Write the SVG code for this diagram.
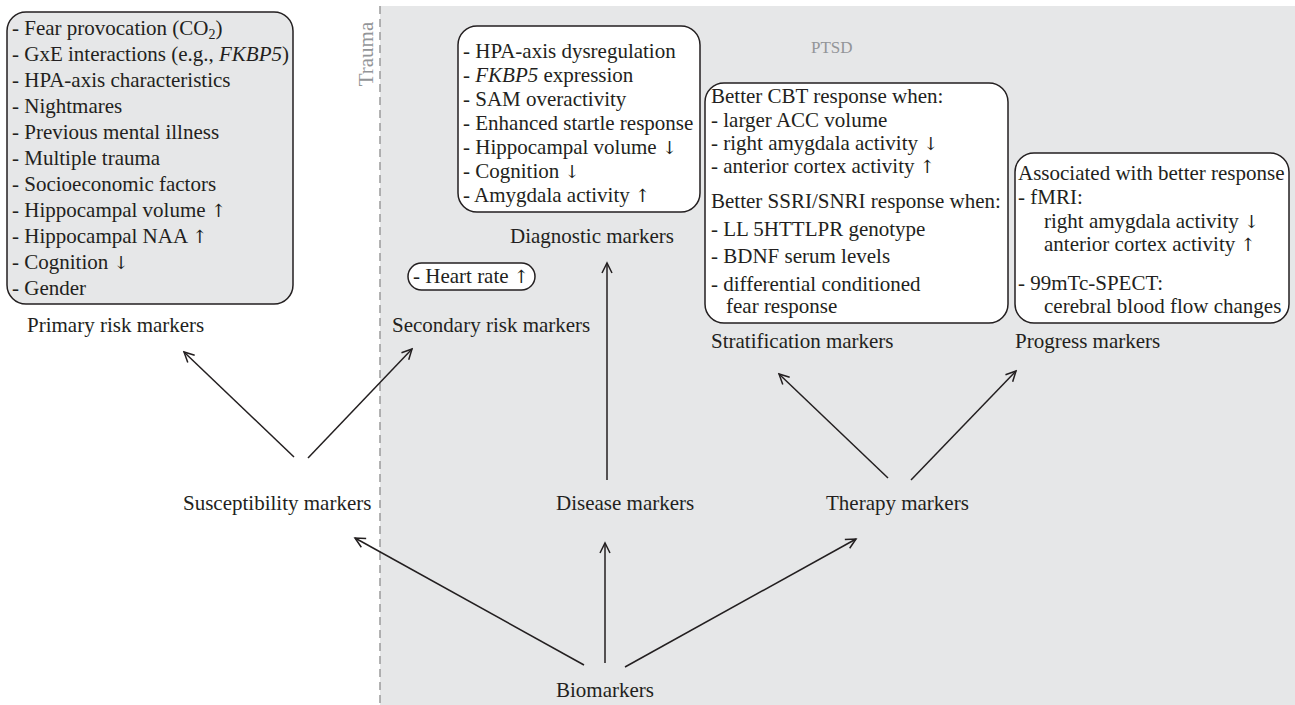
<svg xmlns="http://www.w3.org/2000/svg" width="1295" height="705" viewBox="0 0 1295 705">
<defs>
<style>
text{font-family:"Liberation Serif","DejaVu Serif",serif;font-size:21px;fill:#231f20}
.g{fill:#939598}
.box{stroke:#231f20;stroke-width:1.5}
.w{fill:#ffffff}
.gr{fill:#e6e7e8}
.c line{stroke:#231f20;stroke-width:1.5;marker-end:url(#ah)}
.i{font-style:italic}
.a{font-family:"DejaVu Serif","DejaVu Sans",serif;font-size:18px;font-variant-emoji:text}
</style>
<marker id="ah" markerUnits="userSpaceOnUse" markerWidth="14" markerHeight="14" viewBox="-12 -7 14 14" refX="0" refY="0" orient="auto">
<path d="M-10,-5 L0,0 L-10,5" fill="none" stroke="#231f20" stroke-width="1.5"/>
</marker>
</defs>
<rect width="1295" height="705" fill="#ffffff"/>
<g id="ptsd-region">
<rect x="380" y="6" width="915" height="699" class="gr"/>
<line x1="380" y1="6" x2="380" y2="705" stroke="#9a9a9a" stroke-width="1.5" stroke-dasharray="8,5"/>
<text class="g" transform="translate(373,54) rotate(-90)" text-anchor="middle">Trauma</text>
<text class="g" x="811" y="53" style="font-size:17px">PTSD</text>
</g>
<g id="primary-risk">
<rect x="7" y="12" width="286" height="292" rx="19" class="box gr"/>
<text x="12" y="35">- Fear provocation (CO<tspan dy="4" style="font-size:14px">2</tspan><tspan dy="-4">)</tspan></text>
<text x="12" y="61">- GxE interactions (e.g., <tspan class="i">FKBP5</tspan>)</text>
<text x="12" y="87">- HPA-axis characteristics</text>
<text x="12" y="113">- Nightmares</text>
<text x="12" y="139">- Previous mental illness</text>
<text x="12" y="165">- Multiple trauma</text>
<text x="12" y="191">- Socioeconomic factors</text>
<text x="12" y="217">- Hippocampal volume <tspan class="a">↑</tspan></text>
<text x="12" y="243">- Hippocampal NAA <tspan class="a">↑</tspan></text>
<text x="12" y="269">- Cognition <tspan class="a">↓</tspan></text>
<text x="12" y="295">- Gender</text>
<text x="27" y="332">Primary risk markers</text>
</g>
<g id="diagnostic">
<rect x="458" y="26" width="242" height="186" rx="19" class="box w"/>
<text x="463" y="58">- HPA-axis dysregulation</text>
<text x="463" y="82">- <tspan class="i">FKBP5</tspan> expression</text>
<text x="463" y="106">- SAM overactivity</text>
<text x="463" y="130">- Enhanced startle response</text>
<text x="463" y="154">- Hippocampal volume <tspan class="a">↓</tspan></text>
<text x="463" y="178">- Cognition <tspan class="a">↓</tspan></text>
<text x="463" y="202">- Amygdala activity <tspan class="a">↑</tspan></text>
<text x="510" y="243">Diagnostic markers</text>
</g>
<g id="secondary-risk">
<rect x="408" y="263" width="127" height="27" rx="13.5" class="box w"/>
<text x="413" y="283">- Heart rate <tspan class="a">↑</tspan></text>
<text x="392" y="332">Secondary risk markers</text>
</g>
<g id="stratification">
<rect x="705" y="83" width="303" height="240" rx="19" class="box w"/>
<text x="711" y="103">Better CBT response when:</text>
<text x="711" y="127">- larger ACC volume</text>
<text x="711" y="150">- right amygdala activity <tspan class="a">↓</tspan></text>
<text x="711" y="173">- anterior cortex activity <tspan class="a">↑</tspan></text>
<text x="711" y="208">Better SSRI/SNRI response when:</text>
<text x="711" y="236">- LL 5HTTLPR genotype</text>
<text x="711" y="263">- BDNF serum levels</text>
<text x="711" y="291">- differential conditioned</text>
<text x="726" y="313">fear response</text>
<text x="711" y="348">Stratification markers</text>
</g>
<g id="progress">
<rect x="1015" y="153" width="274" height="170" rx="19" class="box w"/>
<text x="1018" y="180">Associated with better response</text>
<text x="1018" y="204">- fMRI:</text>
<text x="1044" y="228">right amygdala activity <tspan class="a">↓</tspan></text>
<text x="1044" y="251">anterior cortex activity <tspan class="a">↑</tspan></text>
<text x="1018" y="290">- 99mTc-SPECT:</text>
<text x="1044" y="313">cerebral blood flow changes</text>
<text x="1015" y="348">Progress markers</text>
</g>
<g id="susceptibility"><text x="183" y="510">Susceptibility markers</text></g>
<g id="disease"><text x="556" y="510">Disease markers</text></g>
<g id="therapy"><text x="826" y="510">Therapy markers</text></g>
<g id="biomarkers"><text x="556" y="697">Biomarkers</text></g>
<g id="connectors" class="c">
<line x1="294" y1="457" x2="184" y2="352"/>
<line x1="308" y1="458" x2="412" y2="349"/>
<line x1="584" y1="665" x2="355" y2="538"/>
<line x1="605" y1="663" x2="605" y2="543"/>
<line x1="607" y1="480" x2="607" y2="263"/>
<line x1="625" y1="667" x2="856" y2="539"/>
<line x1="888" y1="478" x2="779" y2="374"/>
<line x1="911" y1="480" x2="1016" y2="371"/>
</g>
</svg>
